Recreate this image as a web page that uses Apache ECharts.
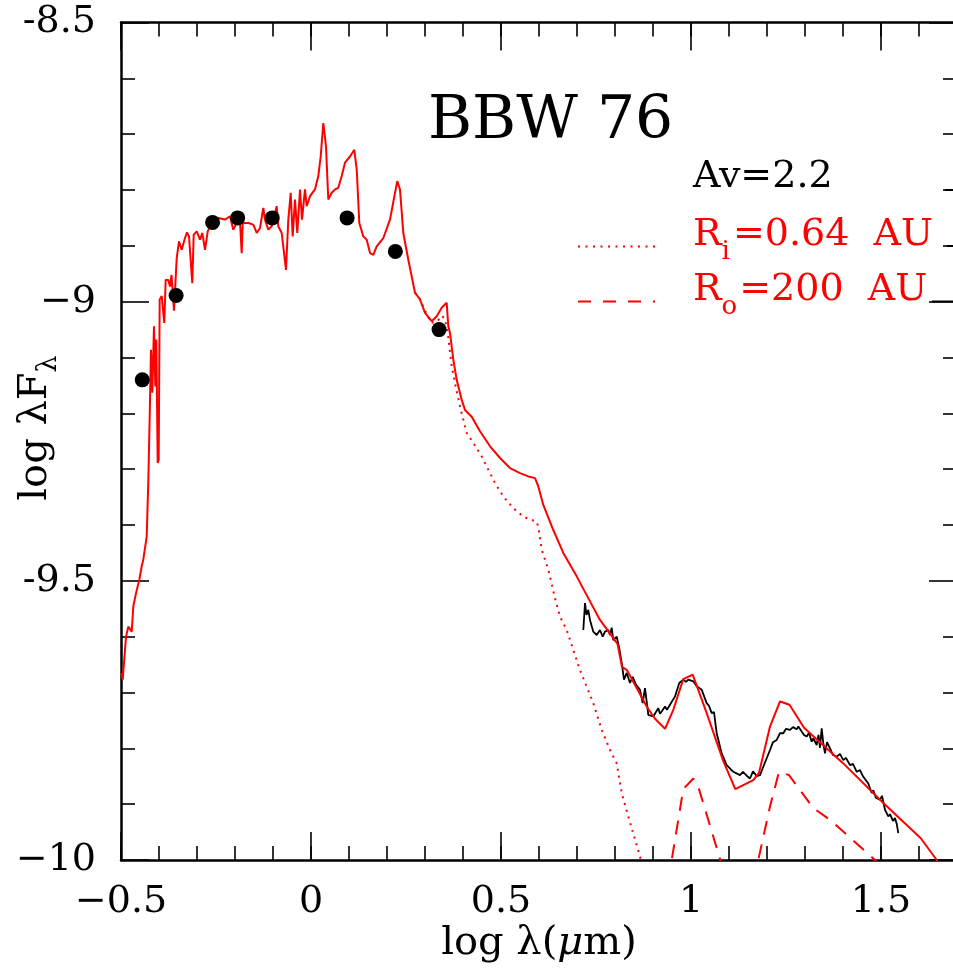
<!DOCTYPE html>
<html><head><meta charset="utf-8">
<script src="https://cdn.jsdelivr.net/npm/echarts@6/dist/echarts.min.js"></script>
<style>html,body{margin:0;padding:0;background:#fff}#c{width:953px;height:970px}</style>
</head><body><div id="c"></div>
<script>
const FONT = '"DejaVu Serif", serif';
const titleText = 'BBW 76';
const avText = 'Av=2.2';
const xTickValues = [-0.5, 0, 0.5, 1, 1.5];
const xTickLabels = ['\u22120.5', '0', '0.5', '1', '1.5'];
const yTickValues = [-10, -9.5, -9, -8.5];
const yTickLabels = ['\u221210', '-9.5', '\u22129', '-8.5'];

// photometric points (log lambda, log lambda F_lambda)
const photometry = [[-0.444,-9.140],[-0.355,-8.989],[-0.259,-8.858],[-0.193,-8.850],[-0.102,-8.850],[0.095,-8.850],[0.222,-8.910],[0.337,-9.050]];

// total model (solid red)
const modelSED = [[-0.499,-9.665],[-0.4955,-9.677],[-0.4921,-9.647],[-0.4868,-9.600],[-0.4808,-9.582],[-0.4718,-9.591],[-0.4676,-9.546],[-0.4605,-9.522],[-0.4518,-9.498],[-0.4455,-9.474],[-0.4413,-9.462],[-0.4324,-9.421],[-0.4282,-9.324],[-0.4245,-9.206],[-0.4211,-9.086],[-0.4176,-9.163],[-0.4132,-9.044],[-0.4097,-9.152],[-0.4071,-9.068],[-0.4034,-9.289],[-0.4008,-9.283],[-0.3982,-8.996],[-0.3929,-8.990],[-0.3861,-9.038],[-0.3824,-8.961],[-0.3755,-8.961],[-0.3711,-8.973],[-0.3671,-8.952],[-0.3605,-9.016],[-0.3534,-8.922],[-0.3474,-8.892],[-0.3403,-8.907],[-0.3316,-8.886],[-0.3263,-8.876],[-0.3211,-8.883],[-0.3124,-8.967],[-0.3087,-8.880],[-0.3008,-8.874],[-0.2921,-8.889],[-0.2861,-8.877],[-0.2789,-8.907],[-0.2718,-8.874],[-0.2613,-8.859],[-0.2526,-8.862],[-0.2439,-8.850],[-0.2395,-8.847],[-0.2263,-8.853],[-0.2132,-8.847],[-0.2045,-8.871],[-0.1955,-8.859],[-0.1868,-8.857],[-0.1824,-8.913],[-0.1797,-8.859],[-0.1650,-8.859],[-0.1518,-8.862],[-0.1429,-8.877],[-0.1342,-8.868],[-0.1255,-8.832],[-0.1211,-8.853],[-0.1124,-8.871],[-0.1034,-8.865],[-0.0903,-8.829],[-0.0861,-8.865],[-0.0771,-8.877],[-0.0658,-8.943],[-0.0597,-8.853],[-0.0534,-8.805],[-0.0482,-8.883],[-0.0421,-8.817],[-0.0361,-8.877],[-0.0289,-8.799],[-0.0237,-8.853],[-0.0158,-8.799],[-0.0113,-8.829],[-0.0026,-8.811],[0.0105,-8.799],[0.0192,-8.775],[0.0255,-8.740],[0.0324,-8.680],[0.0395,-8.722],[0.0455,-8.817],[0.0545,-8.805],[0.0632,-8.799],[0.0718,-8.796],[0.0808,-8.775],[0.0895,-8.751],[0.1026,-8.740],[0.1139,-8.728],[0.1203,-8.763],[0.1271,-8.859],[0.1376,-8.883],[0.1466,-8.889],[0.1553,-8.913],[0.1639,-8.916],[0.1729,-8.901],[0.1903,-8.886],[0.2079,-8.853],[0.2211,-8.805],[0.2271,-8.784],[0.2342,-8.799],[0.2429,-8.877],[0.2561,-8.925],[0.2650,-8.955],[0.2737,-8.984],[0.2868,-8.996],[0.3,-9.020],[0.3176,-9.035],[0.3308,-9.026],[0.3439,-9.011],[0.3571,-9.002],[0.3613,-9.044],[0.3658,-9.056],[0.3745,-9.104],[0.3834,-9.140],[0.3966,-9.176],[0.4053,-9.194],[0.4229,-9.206],[0.4447,-9.232],[0.4711,-9.259],[0.4974,-9.280],[0.5237,-9.298],[0.55,-9.307],[0.5718,-9.313],[0.5895,-9.316],[0.5982,-9.331],[0.6113,-9.364],[0.6376,-9.409],[0.6639,-9.450],[0.6992,-9.492],[0.7297,-9.531],[0.7605,-9.570],[0.8066,-9.613],[0.8184,-9.654],[0.8316,-9.660],[0.8834,-9.725],[0.9053,-9.747],[0.9316,-9.765],[0.9534,-9.731],[0.9797,-9.676],[1.0045,-9.668],[1.0413,-9.737],[1.085,-9.823],[1.1166,-9.873],[1.1639,-9.857],[1.1789,-9.844],[1.2079,-9.761],[1.2342,-9.716],[1.2592,-9.722],[1.2974,-9.763],[1.4008,-9.827],[1.5061,-9.898],[1.6047,-9.961],[1.6466,-10.0],[1.668,-10.027]];

// inner-disk-only model (dotted red)
const innerDiskModel = [[0.2737,-8.984],[0.2868,-8.996],[0.3,-9.016],[0.3158,-9.038],[0.3316,-9.036],[0.3447,-9.025],[0.3526,-9.032],[0.3605,-9.059],[0.3703,-9.116],[0.3789,-9.146],[0.3921,-9.188],[0.4097,-9.235],[0.4271,-9.253],[0.4492,-9.277],[0.4666,-9.301],[0.4842,-9.325],[0.5061,-9.349],[0.5324,-9.370],[0.5587,-9.385],[0.5808,-9.391],[0.5939,-9.394],[0.5987,-9.405],[0.6071,-9.444],[0.6245,-9.480],[0.6421,-9.531],[0.6553,-9.564],[0.6729,-9.588],[0.7079,-9.660],[0.7429,-9.719],[0.7650,-9.767],[0.7868,-9.803],[0.8045,-9.827],[0.8176,-9.880],[0.8350,-9.922],[0.8658,-9.994],[0.8789,-10.027]];

// outer-disk model (dashed red), two silicate bumps
const outerDiskBump1 = [[0.9395,-10.039],[0.9492,-10.0],[0.9797,-9.873],[1.0061,-9.854],[1.0211,-9.873],[1.0763,-9.998],[1.0842,-10.018]];
const outerDiskBump2 = [[1.1684,-10.039],[1.1771,-10.0],[1.2079,-9.904],[1.2316,-9.842],[1.2579,-9.848],[1.3218,-9.907],[1.3658,-9.928],[1.4842,-10.0],[1.5105,-10.016]];

// IRS spectrum (black)
const irsSpectrum = [[0.7166,-9.588],[0.7211,-9.540],[0.725,-9.561],[0.7297,-9.552],[0.7342,-9.570],[0.7429,-9.591],[0.7518,-9.597],[0.7605,-9.588],[0.7676,-9.600],[0.7737,-9.591],[0.7824,-9.588],[0.7868,-9.597],[0.7913,-9.584],[0.7955,-9.606],[0.8045,-9.600],[0.8113,-9.621],[0.8176,-9.647],[0.8237,-9.677],[0.8308,-9.665],[0.8395,-9.683],[0.8466,-9.672],[0.8553,-9.686],[0.8658,-9.695],[0.8729,-9.719],[0.8789,-9.692],[0.8850,-9.725],[0.8876,-9.740],[0.9008,-9.743],[0.9139,-9.728],[0.9184,-9.738],[0.9229,-9.734],[0.9316,-9.725],[0.9368,-9.731],[0.9447,-9.722],[0.9579,-9.707],[0.9692,-9.683],[0.9797,-9.677],[0.9868,-9.681],[0.9929,-9.677],[1.0061,-9.680],[1.015,-9.689],[1.0282,-9.695],[1.0316,-9.692],[1.0413,-9.719],[1.0474,-9.724],[1.0545,-9.737],[1.0605,-9.735],[1.0676,-9.773],[1.0808,-9.809],[1.0939,-9.830],[1.1113,-9.842],[1.1289,-9.848],[1.1368,-9.842],[1.1466,-9.849],[1.1553,-9.854],[1.1632,-9.841],[1.1729,-9.850],[1.1816,-9.848],[1.1903,-9.833],[1.2079,-9.803],[1.2158,-9.789],[1.2255,-9.785],[1.2342,-9.773],[1.2429,-9.773],[1.25,-9.765],[1.2605,-9.767],[1.2684,-9.762],[1.2782,-9.766],[1.2824,-9.761],[1.2913,-9.770],[1.2974,-9.776],[1.3045,-9.779],[1.3105,-9.772],[1.3176,-9.788],[1.3218,-9.782],[1.3308,-9.794],[1.3355,-9.776],[1.3395,-9.799],[1.3439,-9.764],[1.3487,-9.794],[1.3526,-9.809],[1.3579,-9.789],[1.3658,-9.800],[1.3737,-9.812],[1.3834,-9.815],[1.3921,-9.810],[1.4008,-9.821],[1.4079,-9.817],[1.4184,-9.830],[1.4263,-9.828],[1.4361,-9.842],[1.4447,-9.839],[1.4534,-9.851],[1.4666,-9.863],[1.4755,-9.880],[1.4797,-9.875],[1.4868,-9.889],[1.4974,-9.892],[1.5026,-9.885],[1.5105,-9.910],[1.5192,-9.922],[1.5237,-9.918],[1.5316,-9.930],[1.5368,-9.925],[1.5413,-9.935],[1.5455,-9.952]];

const RED = '#ff0000';
const ctx = document.createElement('canvas').getContext('2d');
function tw(t, size){ ctx.font = size + 'px ' + FONT; return ctx.measureText(t).width; }
function lab(vals, labs){ return v => { const i = vals.findIndex(t => Math.abs(t - v) < 1e-6); return i < 0 ? '' : labs[i]; }; }

const tickStyle = {color:'#000', width:1.6};
function xAx(pos, interval, len, withLine, withLabels){
  return {type:'value', position:pos, min:-0.5, max:1.7, interval:interval,
    splitLine:{show:false},
    axisLine:{show:withLine, onZero:false, lineStyle:{color:'#000', width:2.5}},
    axisTick:{show:true, inside:true, length:len, lineStyle:tickStyle},
    axisLabel:{show:withLabels, formatter:lab(xTickValues, xTickLabels), fontSize:38, fontFamily:FONT, color:'#000', margin:23}};
}
function yAx(pos, withLabels){
  return {type:'value', position:pos, min:-10, max:-8.5, interval:0.5,
    splitLine:{show:false},
    axisLine:{show:true, onZero:false, lineStyle:{color:'#000', width:2.5}},
    axisTick:{show:true, inside:true, length:28, lineStyle:tickStyle},
    minorTick:{show:true, splitNumber:5, length:14, lineStyle:tickStyle},
    axisLabel:{show:withLabels, formatter:lab(yTickValues, yTickLabels), fontSize:38, fontFamily:FONT, color:'#000', margin:25}};
}

const LS = 38, SS = 26, LX = 693;
const wR = tw('R', LS);
const wi = tw('i', SS), wo = tw('o', SS);
const YT = 40, YS = 27;
const yMain = 'log \u03bbF';
const wYM = tw(yMain, YT), wYS = tw('\u03bb', YS);
const yTot = wYM + wYS;

function txt(x, y, text, size, color, extra){
  return Object.assign({type:'text', x:x, y:y, style:{text:text, font: size + 'px ' + FONT, fill:color,
    textVerticalAlign:'middle', verticalAlign:'middle', textAlign:'left', align:'left'}}, extra || {});
}
function hline(x1, x2, y, color, dash){
  return {type:'line', shape:{x1:x1, y1:y, x2:x2, y2:y}, style:{stroke:color, lineWidth:2, lineDash:dash || null}};
}

const graphic = [
  txt(428, 122, titleText, 60, '#000'),
  txt(LX, 177, avText, LS, '#000'),
  txt(LX, 235, 'R', LS, RED),
  txt(LX + wR, 252, 'i', SS, RED),
  txt(LX + wR + wi + 3, 235, '=0.64  AU', LS, RED),
  txt(LX, 290, 'R', LS, RED),
  txt(LX + wR, 307, 'o', SS, RED),
  txt(LX + wR + wo + 2, 290, '=200  AU', LS, RED),
  hline(578, 655, 246.5, RED, [2, 5.5]),
  hline(578, 655, 301.5, RED, [13, 12]),
  hline(945, 953, 190, '#000'),
  hline(947, 953, 246, '#000'),
  hline(932, 953, 301.5, '#000'),
  {type:'text', x:539, y:944, style:{text:'{n|log \u03bb(}{i|\u03bc}{n|m)}', font:'40px ' + FONT, fill:'#000',
    textAlign:'center', align:'center', textVerticalAlign:'middle', verticalAlign:'middle',
    rich:{n:{fontSize:40, fontFamily:FONT, color:'#000'}, i:{fontSize:40, fontFamily:FONT, fontStyle:'italic', color:'#000'}}}},
  {type:'group', x:36, y:428, rotation:Math.PI/2, children:[
    txt(-yTot/2, 0, yMain, YT, '#000'),
    txt(-yTot/2 + wYM, 13, '\u03bb', YS, '#000')
  ]}
];

const chart = echarts.init(document.getElementById('c'), null, {renderer:'canvas'});
chart.setOption({
  animation:false,
  backgroundColor:'#fff',
  grid:{left:121, top:22.5, width:836, height:837.5, containLabel:false, outerBoundsMode:'none'},
  xAxis:[xAx('bottom', 0.1, 14, true, true), xAx('bottom', 0.5, 28, false, false),
         xAx('top', 0.1, 14, true, false), xAx('top', 0.5, 28, false, false)],
  yAxis:[yAx('left', true), yAx('right', false)],
  series:[
    {type:'line', data:irsSpectrum, showSymbol:false, symbol:'none', lineStyle:{color:'#000', width:1.8}, z:2},
    {type:'line', data:innerDiskModel, showSymbol:false, symbol:'none', lineStyle:{color:RED, width:2, type:[2,5]}, z:3},
    {type:'line', data:outerDiskBump1, showSymbol:false, symbol:'none', lineStyle:{color:RED, width:2, type:[14,10]}, z:3},
    {type:'line', data:outerDiskBump2, showSymbol:false, symbol:'none', lineStyle:{color:RED, width:2, type:[14,10]}, z:3},
    {type:'line', data:modelSED, showSymbol:false, symbol:'none', lineStyle:{color:RED, width:2}, z:4},
    {type:'scatter', data:photometry, symbol:'circle', symbolSize:15, itemStyle:{color:'#000', opacity:1}, z:5}
  ],
  graphic:graphic
});
</script>
</body></html>
